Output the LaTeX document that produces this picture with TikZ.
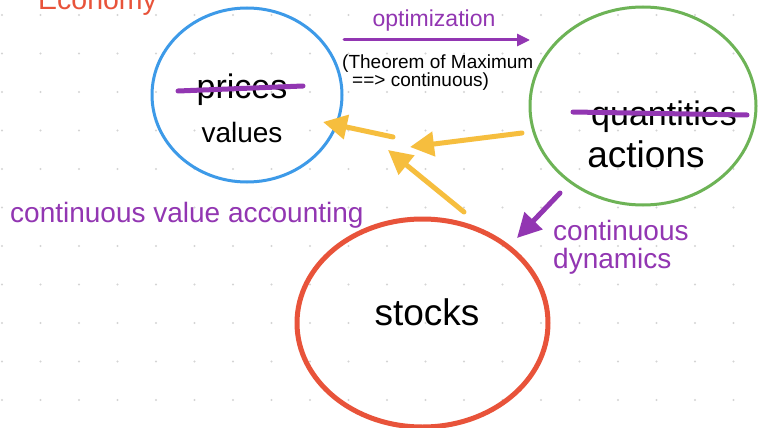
\documentclass[tikz,border=0pt]{standalone}
\usepackage{fontspec}
\setmainfont{Liberation Sans}
\usetikzlibrary{shapes.geometric,arrows.meta}
\definecolor{ringblue}{HTML}{3D9AE8}
\definecolor{ringgreen}{HTML}{6DB356}
\definecolor{ringred}{HTML}{E8533A}
\definecolor{notepurple}{HTML}{9236B2}
\definecolor{flowyellow}{HTML}{F6BE3E}
\definecolor{gridgray}{HTML}{D4D4D4}
\begin{document}
\begin{tikzpicture}[x=1pt,y=-1pt,
  ring/.style={ellipse,draw,inner sep=0pt},
  word/.style={inner sep=0pt,anchor=base},
  note/.style={inner sep=0pt,anchor=base west,text=notepurple},
  strike/.style={draw=notepurple,line width=5,line cap=round},
  flow/.style={draw=flowyellow,line width=5,line cap=round,
    -{Triangle[length=24,width=24]}},
  push/.style={draw=notepurple,line cap=round}]
\useasboundingbox (0,0) rectangle (758,428);
\clip (0,0) rectangle (758,428);
\fill[white] (0,0) rectangle (758,428);

% dotted canvas
\foreach \i in {0,...,19}
  \foreach \j in {0,...,10}
    \fill[gridgray] (2+38.5*\i,15+38.5*\j) circle (1.1);

% title
\node[inner sep=0pt,anchor=base west,text=ringred,
  font=\fontsize{28.5}{30}\selectfont] (title) at (38,10) {Economy};

% the three rings
\node[ring,draw=ringblue,line width=3,minimum width=190,minimum height=174] (valring) at (247,95) {};
\node[ring,draw=ringgreen,line width=3,minimum width=226,minimum height=198] (actring) at (643,106) {};
\node[ring,draw=ringred,line width=5,minimum width=251,minimum height=208] (stockring) at (422.5,323) {};

% ring labels
\node[word,font=\fontsize{34}{36}\selectfont] (prices) at (242,99) {prices};
\draw[strike] (178,91) -- (303,86);
\node[word,font=\fontsize{28}{30}\selectfont] (values) at (242,142) {values};
\node[word,font=\fontsize{34}{36}\selectfont] (quantities) at (664,125) {quantities};
\draw[strike] (573,112) -- (747,115);
\node[word,font=\fontsize{37}{39}\selectfont] (actions) at (646,167) {actions};
\node[word,font=\fontsize{37}{39}\selectfont] (stocks) at (427,325) {stocks};

% optimization arrow and notes
\node[word,text=notepurple,font=\fontsize{23}{25}\selectfont] (optim) at (434,27) {optimization};
\coordinate (optA) at (344,40);
\coordinate (optB) at (530,40);
\draw[push,line width=3,-{Triangle[length=13,width=12]}] (optA) -- (optB);
\node[inner sep=0pt,anchor=base west,font=\fontsize{19}{21}\selectfont] (thm1) at (342,69) {(Theorem of Maximum};
\node[inner sep=0pt,anchor=base west,font=\fontsize{19}{21}\selectfont] (thm2) at (352,87) {==> continuous)};

% value accounting flows
\coordinate (fromAct) at (522,133);
\coordinate (mid) at (410,147);
\coordinate (midOut) at (393,137);
\coordinate (toVal) at (323,122);
\coordinate (fromStock) at (464,212);
\coordinate (mid2) at (388,150);
\draw[flow] (fromAct) -- (mid);
\draw[flow] (midOut) -- (toVal);
\draw[flow] (fromStock) -- (mid2);
\node[note,font=\fontsize{28}{30}\selectfont] (accnote) at (10,222) {continuous value accounting};

% dynamics arrow
\coordinate (dynA) at (560,193);
\coordinate (dynB) at (517,238);
\draw[push,line width=5,-{Triangle[length=24,width=24]}] (dynA) -- (dynB);
\node[note,font=\fontsize{28}{30}\selectfont] (dyn1) at (553,240) {continuous};
\node[note,font=\fontsize{28}{30}\selectfont] (dyn2) at (553,268) {dynamics};
\end{tikzpicture}
\end{document}
